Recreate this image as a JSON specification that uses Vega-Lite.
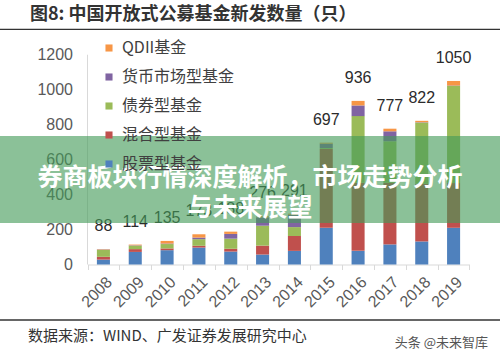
{
  "$schema": "https://vega.github.io/schema/vega-lite/v6.json",
  "width": 500,
  "height": 360,
  "autosize": {"type": "none"},
  "padding": 0,
  "background": "white",
  "config": {"view": {"stroke": null}},
  "datasets": {
    "types": [
      {"type": "股票型基金", "rank": 1},
      {"type": "混合型基金", "rank": 2},
      {"type": "债券型基金", "rank": 3},
      {"type": "货币市场型基金", "rank": 4},
      {"type": "QDII基金", "rank": 5}
    ],
    "funds": [
      {"year": "2008", "type": "股票型基金", "n": 28},
      {"year": "2008", "type": "混合型基金", "n": 16},
      {"year": "2008", "type": "债券型基金", "n": 40},
      {"year": "2008", "type": "货币市场型基金", "n": 2},
      {"year": "2008", "type": "QDII基金", "n": 2},
      {"year": "2009", "type": "股票型基金", "n": 72},
      {"year": "2009", "type": "混合型基金", "n": 16},
      {"year": "2009", "type": "债券型基金", "n": 20},
      {"year": "2009", "type": "货币市场型基金", "n": 2},
      {"year": "2009", "type": "QDII基金", "n": 4},
      {"year": "2010", "type": "股票型基金", "n": 82},
      {"year": "2010", "type": "混合型基金", "n": 10},
      {"year": "2010", "type": "债券型基金", "n": 25},
      {"year": "2010", "type": "货币市场型基金", "n": 3},
      {"year": "2010", "type": "QDII基金", "n": 15},
      {"year": "2011", "type": "股票型基金", "n": 97},
      {"year": "2011", "type": "混合型基金", "n": 10},
      {"year": "2011", "type": "债券型基金", "n": 38},
      {"year": "2011", "type": "货币市场型基金", "n": 9},
      {"year": "2011", "type": "QDII基金", "n": 19},
      {"year": "2012", "type": "股票型基金", "n": 74},
      {"year": "2012", "type": "混合型基金", "n": 16},
      {"year": "2012", "type": "债券型基金", "n": 58},
      {"year": "2012", "type": "货币市场型基金", "n": 27},
      {"year": "2012", "type": "QDII基金", "n": 13},
      {"year": "2013", "type": "股票型基金", "n": 57},
      {"year": "2013", "type": "混合型基金", "n": 51},
      {"year": "2013", "type": "债券型基金", "n": 114},
      {"year": "2013", "type": "货币市场型基金", "n": 48},
      {"year": "2013", "type": "QDII基金", "n": 6},
      {"year": "2014", "type": "股票型基金", "n": 78},
      {"year": "2014", "type": "混合型基金", "n": 85},
      {"year": "2014", "type": "债券型基金", "n": 51},
      {"year": "2014", "type": "货币市场型基金", "n": 70},
      {"year": "2014", "type": "QDII基金", "n": 7},
      {"year": "2015", "type": "股票型基金", "n": 210},
      {"year": "2015", "type": "混合型基金", "n": 451},
      {"year": "2015", "type": "债券型基金", "n": 5},
      {"year": "2015", "type": "货币市场型基金", "n": 25},
      {"year": "2015", "type": "QDII基金", "n": 6},
      {"year": "2016", "type": "股票型基金", "n": 78},
      {"year": "2016", "type": "混合型基金", "n": 390},
      {"year": "2016", "type": "债券型基金", "n": 381},
      {"year": "2016", "type": "货币市场型基金", "n": 61},
      {"year": "2016", "type": "QDII基金", "n": 26},
      {"year": "2017", "type": "股票型基金", "n": 115},
      {"year": "2017", "type": "混合型基金", "n": 352},
      {"year": "2017", "type": "债券型基金", "n": 238},
      {"year": "2017", "type": "货币市场型基金", "n": 57},
      {"year": "2017", "type": "QDII基金", "n": 15},
      {"year": "2018", "type": "股票型基金", "n": 132},
      {"year": "2018", "type": "混合型基金", "n": 330},
      {"year": "2018", "type": "债券型基金", "n": 350},
      {"year": "2018", "type": "货币市场型基金", "n": 2},
      {"year": "2018", "type": "QDII基金", "n": 8},
      {"year": "2019", "type": "股票型基金", "n": 210},
      {"year": "2019", "type": "混合型基金", "n": 256},
      {"year": "2019", "type": "债券型基金", "n": 556},
      {"year": "2019", "type": "货币市场型基金", "n": 2},
      {"year": "2019", "type": "QDII基金", "n": 26}
    ]
  },
  "data": {"name": "funds"},
  "layer": [
    {
      "transform": [{"lookup": "type", "from": {"data": {"name": "types"}, "key": "type", "fields": ["rank"]}}],
      "mark": {"type": "bar", "width": {"band": 0.41}},
      "encoding": {
        "x": {
          "field": "year", "type": "nominal", "title": null,
          "scale": {"type": "band", "domain": ["2008","2009","2010","2011","2012","2013","2014","2015","2016","2017","2018","2019"], "range": [87.5, 469.5], "paddingInner": 0, "paddingOuter": 0},
          "axis": {"title": null, "orient": "bottom", "offset": -95.5, "domainColor": "#d9d9d9", "domainWidth": 1, "tickColor": "#d9d9d9", "tickSize": 5, "tickBand": "extent", "labelAngle": -45, "labelFont": "Liberation Sans", "labelFontSize": 16, "labelColor": "#595959", "labelPadding": 4, "grid": false}
        },
        "y": {
          "field": "n", "type": "quantitative", "stack": "zero", "title": null,
          "scale": {"domain": [-546.3, 1513.2], "nice": false, "zero": false},
          "axis": {"title": null, "orient": "left", "offset": -87.5, "values": [0,200,400,600,800,1000,1200], "format": "d", "domain": false, "ticks": false, "grid": false, "labelFont": "Liberation Sans", "labelFontSize": 16, "labelColor": "#595959", "labelPadding": 15}
        },
        "order": {"field": "rank", "type": "quantitative", "sort": "ascending"},
        "color": {
          "field": "type", "type": "nominal",
          "scale": {"domain": ["QDII基金", "货币市场型基金", "债券型基金", "混合型基金", "股票型基金"], "range": ["#F79646", "#8064A2", "#9BBB59", "#C0504D", "#4F81BD"]},
          "legend": {"title": null, "orient": "none", "legendX": 101, "legendY": 40, "symbolType": "square", "symbolSize": 50, "symbolStrokeWidth": 0, "labelFont": "Noto Sans CJK SC", "labelFontSize": 16, "labelColor": "#404040", "labelOffset": 5, "rowPadding": 13, "padding": 0}
        }
      }
    },
    {
      "transform": [{"aggregate": [{"op": "sum", "field": "n", "as": "total"}], "groupby": ["year"]}],
      "mark": {"type": "text", "font": "Liberation Sans", "fontSize": 16, "color": "#2b2b2b", "baseline": "middle", "dy": -23},
      "encoding": {
        "x": {"field": "year", "type": "nominal", "title": null},
        "y": {"field": "total", "type": "quantitative", "title": null},
        "text": {"field": "total", "type": "quantitative"}
      }
    },
    {
      "data": {"values": [{"k": "axis"}]},
      "mark": {"type": "rule", "color": "#d9d9d9", "strokeWidth": 1},
      "encoding": {
        "x": {"datum": "2008", "bandPosition": 0, "type": "nominal", "title": null},
        "y": {"datum": 0, "type": "quantitative", "title": null},
        "y2": {"datum": 1200}
      }
    },
    {
      "data": {"values": [{"k": "banner"}]},
      "mark": {"type": "rect", "color": "#449b58", "opacity": 0.62},
      "encoding": {
        "y": {"datum": 735.1, "type": "quantitative", "title": null},
        "y2": {"datum": 237.4}
      }
    },
    {
      "data": {"values": [{"label": "券商板块行情深度解析，市场走势分析\n与未来展望"}]},
      "mark": {"type": "text", "font": "Noto Sans CJK SC", "fontWeight": "bold", "fontSize": 25, "color": "white", "align": "center", "baseline": "middle", "lineBreak": "\n", "lineHeight": 30},
      "encoding": {
        "y": {"datum": 494.8, "type": "quantitative", "title": null},
        "text": {"field": "label"}
      }
    },
    {
      "data": {"values": [{"label": "图8:  中国开放式公募基金新发数量（只）"}]},
      "mark": {"type": "text", "font": "Noto Sans CJK SC", "fontSize": 18, "fontWeight": "bold", "color": "#333333", "align": "left", "baseline": "middle", "dx": -57.5},
      "encoding": {
        "x": {"datum": "2008", "bandPosition": 0, "type": "nominal", "title": null},
        "y": {"datum": 1427.3, "type": "quantitative", "title": null},
        "text": {"field": "label"}
      }
    },
    {
      "data": {"values": [{"k": "top line"}]},
      "mark": {"type": "rule", "color": "#333333", "strokeWidth": 1.3},
      "encoding": {"y": {"datum": 1345.5, "type": "quantitative", "title": null}}
    },
    {
      "data": {"values": [{"k": "bottom line"}]},
      "mark": {"type": "rule", "color": "#333333", "strokeWidth": 1.3},
      "encoding": {"y": {"datum": -317.5, "type": "quantitative", "title": null}}
    },
    {
      "data": {"values": [{"label": "数据来源：WIND、广发证券发展研究中心"}]},
      "mark": {"type": "text", "font": "Noto Sans CJK SC", "fontSize": 15, "color": "#333333", "align": "left", "baseline": "middle", "dx": -59.5},
      "encoding": {
        "x": {"datum": "2008", "bandPosition": 0, "type": "nominal", "title": null},
        "y": {"datum": -409, "type": "quantitative", "title": null},
        "text": {"field": "label"}
      }
    },
    {
      "data": {"values": [{"label": "头条 @未来智库"}]},
      "mark": {"type": "text", "font": "Noto Sans CJK SC", "fontSize": 13, "color": "#555555", "align": "right", "baseline": "middle", "dx": 18.5},
      "encoding": {
        "x": {"datum": "2019", "bandPosition": 1, "type": "nominal", "title": null},
        "y": {"datum": -449, "type": "quantitative", "title": null},
        "text": {"field": "label"}
      }
    }
  ]
}
